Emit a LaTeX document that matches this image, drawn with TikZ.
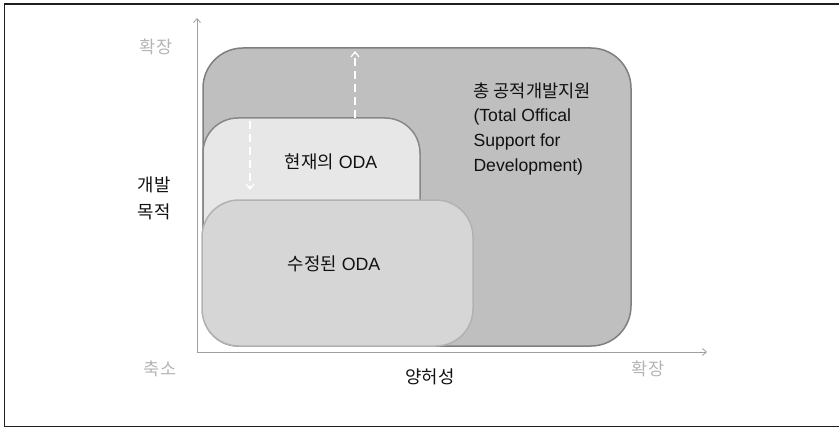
\documentclass[tikz,border=0pt]{standalone}
\usepackage{fontspec}
\setmainfont{Liberation Sans}
\newfontfamily\kr{Noto Sans CJK KR}
\usetikzlibrary{arrows.meta}
\definecolor{bigfill}{HTML}{BFBFBF}
\definecolor{bigline}{HTML}{7F7F7F}
\definecolor{curfill}{HTML}{E7E7E7}
\definecolor{curline}{HTML}{888888}
\definecolor{revfill}{HTML}{D6D6D6}
\definecolor{revline}{HTML}{B2B2B2}
\definecolor{axisgray}{HTML}{A0A0A0}
\definecolor{softlabel}{HTML}{B4B4B4}
\definecolor{ink}{HTML}{111111}
\tikzset{
  areabox/.style={rounded corners=#1, line width=1.5pt, inner sep=0pt},
  axisline/.style={draw=axisgray, line width=0.8pt, -{Straight Barb[length=4pt,width=7pt]}},
  shiftarrow/.style={draw=white, line width=1.6pt, dash pattern=on 8pt off 5pt,
    -{Straight Barb[length=5pt,width=8pt,line width=1.2pt]}},
  boxtext/.style={font=\fontsize{17.8}{20}\selectfont, text=ink},
  endlabel/.style={font=\fontsize{17.5}{20}\selectfont, text=softlabel},
  axislabel/.style={font=\fontsize{17.8}{27}\selectfont, text=ink, align=center}
}
\begin{document}
\begin{tikzpicture}[x=1pt,y=-1pt]
  \useasboundingbox (0,0) rectangle (839,428);
  % outer frame (open on the right)
  \draw[line width=1.5pt, draw=black!88] (845,4) -- (4.5,4) -- (4.5,426.5) -- (845,426.5);

  % axes
  \coordinate (origin) at (197,352);
  \coordinate (ytop) at (197,18);
  \coordinate (xend) at (707,352);
  \draw[axisline] (origin) -- (ytop);
  \draw[axisline] (origin) -- (xend);

  % nested support areas
  \node[areabox=40pt, draw=bigline, fill=bigfill, minimum width=428pt, minimum height=298pt]
    (total) at (417,197) {};
  \node[areabox=35pt, draw=curline, fill=curfill, minimum width=217pt, minimum height=228pt]
    (current) at (311.5,232) {};
  \node[areabox=37pt, draw=revline, fill=revfill, minimum width=271pt, minimum height=146pt]
    (revised) at (337.5,273) {};

  % texts inside the areas
  \node[boxtext, anchor=north west, align=left, font=\fontsize{17.6}{24.8}\selectfont]
    (totaltext) at (470,79) {{\kr 총 공적개발지원}\\(Total Offical\\Support for\\Development)};
  \node[boxtext] (currenttext) at (331,162) {{\kr 현재의} ODA};
  \node[boxtext] (revisedtext) at (334,264) {{\kr 수정된} ODA};

  % shifts between the areas
  \coordinate (upfrom) at (355,118);
  \coordinate (upto) at (355,51);
  \coordinate (downfrom) at (250,121);
  \coordinate (downto) at (250,190);
  \draw[shiftarrow] (upfrom) -- (upto);
  \draw[shiftarrow] (downfrom) -- (downto);

  % axis labels
  \node[endlabel] (ymax) at (156,47) {\kr 확장};
  \node[endlabel] (xymin) at (160,369) {\kr 축소};
  \node[endlabel] (xmax) at (648,369) {\kr 확장};
  \node[axislabel] (ytitle) at (154,198) {\kr 개발\\\kr 목적};
  \node[axislabel] (xtitle) at (430,377) {\kr 양허성};
\end{tikzpicture}
\end{document}
